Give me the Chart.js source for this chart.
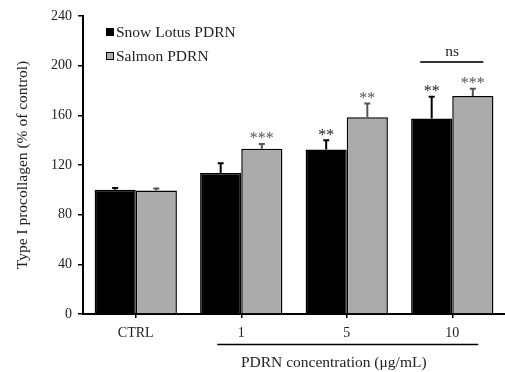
<!DOCTYPE html>
<html>
<head>
<meta charset="utf-8">
<script src="https://cdn.jsdelivr.net/npm/chart.js@4.4.0/dist/chart.umd.min.js"></script>
<style>
  html, body { margin: 0; padding: 0; background: #fff; }
  #wrap { width: 505px; height: 372px; }
</style>
</head>
<body>
<div id="wrap"><canvas id="c" width="505" height="372"></canvas></div>
<script>
const categories = ['CTRL', '1', '5', '10'];
const snowLotus = [100, 113.5, 132.5, 157.5];
const snowLotusErr = [1.5, 8, 7.5, 17.5];
const salmon = [99.5, 133, 158.5, 175.5];
const salmonErr = [1.5, 4, 11, 6];
const snowLotusSig = ['', '', '**', '**'];
const salmonSig = ['', '***', '**', '***'];
const seriesNames = ['Snow Lotus PDRN', 'Salmon PDRN'];
const yTicks = [0, 40, 80, 120, 160, 200, 240];
const xTitle = 'PDRN concentration (\u03bcg/mL)';
const yTitle = 'Type I procollagen (% of control)';
const nsLabel = 'ns';

const FONT = '"Liberation Serif", "Times New Roman", serif';
const errs = [snowLotusErr, salmonErr];
const sigs = [snowLotusSig, salmonSig];
const errColors = ['#000000', '#555555'];
const sigColors = ['#222222', '#555555'];

const annot = {
  id: 'annot',
  afterDatasetsDraw(chart) {
    const ctx = chart.ctx;
    const y = chart.scales.y;
    const x = chart.scales.x;
    const area = chart.chartArea;
    ctx.save();
    // error bars and significance
    for (let d = 0; d < 2; d++) {
      const meta = chart.getDatasetMeta(d);
      const vals = chart.data.datasets[d].data;
      meta.data.forEach((bar, i) => {
        const top = y.getPixelForValue(vals[i] + errs[d][i]);
        const base = y.getPixelForValue(vals[i]);
        ctx.strokeStyle = errColors[d];
        ctx.lineWidth = 2;
        ctx.beginPath();
        ctx.moveTo(bar.x, base);
        ctx.lineTo(bar.x, top);
        ctx.moveTo(bar.x - 3, top);
        ctx.lineTo(bar.x + 3, top);
        ctx.stroke();
        if (sigs[d][i]) {
          ctx.fillStyle = sigColors[d];
          ctx.font = '16px ' + FONT;
          ctx.textAlign = 'center';
          ctx.textBaseline = 'alphabetic';
          ctx.fillText(sigs[d][i], bar.x, top - 0.5);
        }
      });
    }
    // ns bracket over last group
    const b0 = chart.getDatasetMeta(0).data[3];
    const b1 = chart.getDatasetMeta(1).data[3];
    const nsY = y.getPixelForValue(203);
    ctx.strokeStyle = '#333333';
    ctx.lineWidth = 2;
    ctx.beginPath();
    ctx.moveTo(b0.x - 11.5, nsY);
    ctx.lineTo(b1.x + 10.5, nsY);
    ctx.stroke();
    ctx.fillStyle = '#222222';
    ctx.font = '15.5px ' + FONT;
    ctx.textAlign = 'center';
    ctx.textBaseline = 'middle';
    ctx.fillText(nsLabel, (b0.x + b1.x) / 2, nsY - 10);

    // bracket below x axis for concentrations
    const p1 = x.getPixelForValue(1);
    const p3 = x.getPixelForValue(3);
    const lineY = area.bottom + 30.5;
    ctx.strokeStyle = '#000';
    ctx.lineWidth = 1.5;
    ctx.beginPath();
    ctx.moveTo(p1 - 24, lineY);
    ctx.lineTo(p3 + 26, lineY);
    ctx.stroke();
    ctx.fillStyle = '#222222';
    ctx.font = '15.5px ' + FONT;
    ctx.textAlign = 'center';
    ctx.textBaseline = 'middle';
    ctx.fillText(xTitle, (p1 + p3) / 2 - 13, area.bottom + 49);

    // legend
    const lx = area.left + 23;
    const ly = [area.top + 16, area.top + 40];
    const fills = [chart.data.datasets[0].backgroundColor, chart.data.datasets[1].backgroundColor];
    for (let k = 0; k < 2; k++) {
      ctx.fillStyle = '#000';
      ctx.fillRect(lx, ly[k] - 4, 8, 8);
      ctx.fillStyle = fills[k];
      ctx.fillRect(lx + 1, ly[k] - 3, 6, 6);
      ctx.fillStyle = '#222222';
      ctx.font = '15.5px ' + FONT;
      ctx.textAlign = 'left';
      ctx.textBaseline = 'middle';
      ctx.fillText(seriesNames[k], lx + 10, ly[k] + 1);
    }
    ctx.restore();
  }
};

new Chart(document.getElementById('c'), {
  type: 'bar',
  data: {
    labels: categories,
    datasets: [
      { label: seriesNames[0], data: snowLotus, backgroundColor: '#000000', borderColor: '#000000', borderWidth: 1.5 },
      { label: seriesNames[1], data: salmon, backgroundColor: '#ababab', borderColor: '#000000', borderWidth: 1.5 }
    ]
  },
  options: {
    responsive: false,
    animation: false,
    devicePixelRatio: 1,
    layout: { padding: { top: 16, right: 0, left: 0, bottom: 0 } },
    datasets: { bar: { categoryPercentage: 0.78, barPercentage: 1.0 } },
    plugins: { legend: { display: false }, tooltip: { enabled: false } },
    scales: {
      x: {
        offset: true,
        grid: { offset: false, drawOnChartArea: false, drawTicks: true, tickLength: 4, color: '#000', lineWidth: 1.5 },
        border: { display: true, color: '#000', width: 2 },
        ticks: { color: '#222', font: { family: FONT, size: 14 }, padding: 7 },
        afterFit(s) { s.height = 58; }
      },
      y: {
        min: 0, max: 240,
        afterBuildTicks(s) { s.ticks = yTicks.map(v => ({ value: v })); },
        grid: { drawOnChartArea: false, drawTicks: true, tickLength: 5, color: '#000', lineWidth: 1.5 },
        border: { display: true, color: '#000', width: 2 },
        ticks: { color: '#222', font: { family: FONT, size: 14 }, padding: 6 },
        title: { display: true, text: yTitle, color: '#222', font: { family: FONT, size: 15.5 }, padding: { top: 14, bottom: 0 } },
        afterFit(s) { s.width = 83; }
      }
    }
  },
  plugins: [annot]
});
</script>
</body>
</html>
